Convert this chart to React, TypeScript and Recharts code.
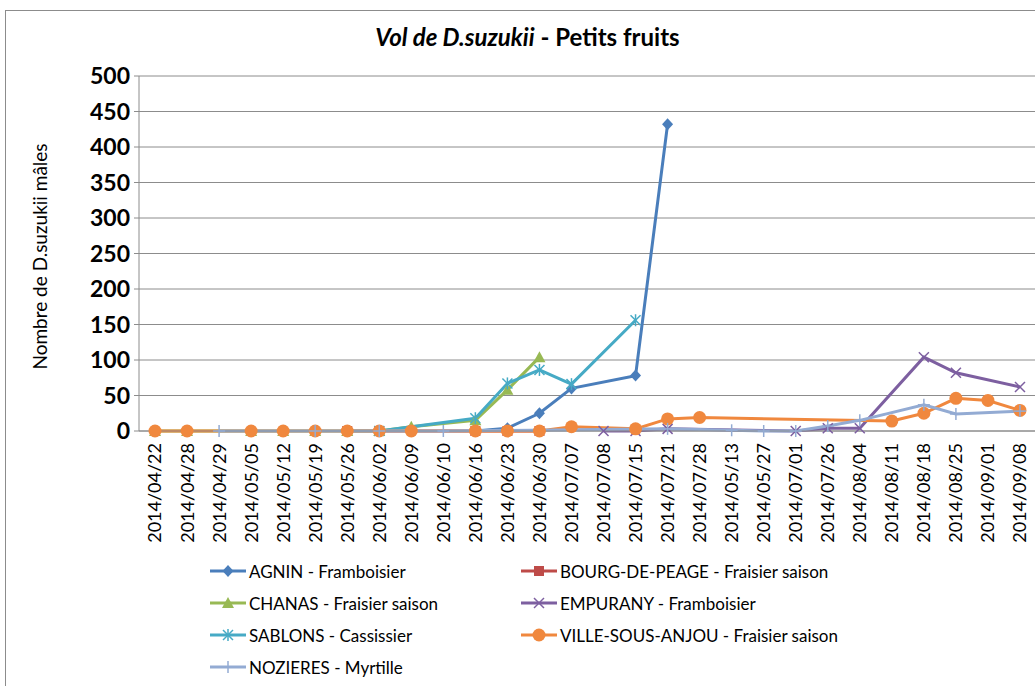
import React from 'react';
import { LineChart, Line, XAxis, YAxis, CartesianGrid } from 'recharts';

const categories = [
  '2014/04/22', '2014/04/28', '2014/04/29', '2014/05/05', '2014/05/12', '2014/05/19', '2014/05/26',
  '2014/06/02', '2014/06/09', '2014/06/10', '2014/06/16', '2014/06/23', '2014/06/30', '2014/07/07',
  '2014/07/08', '2014/07/15', '2014/07/21', '2014/07/28', '2014/05/13', '2014/05/27', '2014/07/01',
  '2014/07/26', '2014/08/04', '2014/08/11', '2014/08/18', '2014/08/25', '2014/09/01', '2014/09/08',
];

const N = null;
const agnin = [N, N, N, N, N, N, N, N, N, N, 0, 4, 25, 60, N, 78, 432, N, N, N, N, N, N, N, N, N, N, N];
const bourg = [N, N, N, N, N, N, 0, 0, N, N, 0, 0, 0, N, N, N, N, N, N, N, N, N, N, N, N, N, N, N];
const chanas = [0, 0, N, 0, 0, 0, 0, 0, 6, N, 15, 58, 104, N, N, N, N, N, N, N, N, N, N, N, N, N, N, N];
const empurany = [N, N, N, N, N, N, N, N, N, N, N, N, N, N, 0, 0, 3, N, N, N, 0, 4, 4, N, 104, 82, N, 62];
const sablons = [N, N, N, N, N, N, N, 0, N, N, 18, 67, 86, 66, N, 156, N, N, N, N, N, N, N, N, N, N, N, N];
const ville = [0, 0, N, 0, 0, 0, 0, 0, 0, N, 0, 0, 0, 6, N, 3, 17, 19, N, N, N, N, N, 14, 25, 46, 43, 29];
const nozieres = [N, N, 0, N, N, 0, N, 0, N, 0, N, N, N, N, N, N, 3, N, 1, 0, 0, 7, 15, N, 37, 24, N, 28];

const yTicks = [0, 50, 100, 150, 200, 250, 300, 350, 400, 450, 500];

const series = [
  { key: 'agnin', name: 'AGNIN - Framboisier', color: '#4A7EBB', shape: 'diamond', values: agnin },
  { key: 'bourg', name: 'BOURG-DE-PEAGE - Fraisier saison', color: '#BE4B48', shape: 'square', values: bourg },
  { key: 'chanas', name: 'CHANAS - Fraisier saison', color: '#98B954', shape: 'triangle', values: chanas },
  { key: 'empurany', name: 'EMPURANY - Framboisier', color: '#7D5FA0', shape: 'x', values: empurany },
  { key: 'sablons', name: 'SABLONS - Cassissier', color: '#46AAC5', shape: 'star', values: sablons },
  { key: 'ville', name: 'VILLE-SOUS-ANJOU - Fraisier saison', color: '#F0883E', shape: 'circle', values: ville },
  { key: 'nozieres', name: 'NOZIERES - Myrtille', color: '#93ABD3', shape: 'plus', values: nozieres },
];

const data = categories.map((c, i) => {
  const row: any = { date: c };
  series.forEach((s) => {
    row[s.key] = s.values[i];
  });
  return row;
});

const FONT = 'Lato, "Open Sans", sans-serif';

function Marker({ shape, cx, cy, color }: { shape: string; cx: number; cy: number; color: string }) {
  switch (shape) {
    case 'diamond':
      return <polygon points={`${cx},${cy - 6} ${cx + 5.5},${cy} ${cx},${cy + 6} ${cx - 5.5},${cy}`} fill={color} />;
    case 'square':
      return <rect x={cx - 5} y={cy - 5} width={10} height={10} fill={color} />;
    case 'triangle':
      return <polygon points={`${cx},${cy - 6} ${cx + 6},${cy + 5} ${cx - 6},${cy + 5}`} fill={color} />;
    case 'x':
      return (
        <g stroke={color} strokeWidth={1.5}>
          <line x1={cx - 5} y1={cy - 5} x2={cx + 5} y2={cy + 5} />
          <line x1={cx - 5} y1={cy + 5} x2={cx + 5} y2={cy - 5} />
        </g>
      );
    case 'star':
      return (
        <g stroke={color} strokeWidth={1.5}>
          <line x1={cx - 5} y1={cy - 5} x2={cx + 5} y2={cy + 5} />
          <line x1={cx - 5} y1={cy + 5} x2={cx + 5} y2={cy - 5} />
          <line x1={cx} y1={cy - 6} x2={cx} y2={cy + 6} />
        </g>
      );
    case 'circle':
      return <circle cx={cx} cy={cy} r={6.5} fill={color} />;
    case 'plus':
      return (
        <g stroke={color} strokeWidth={1.5}>
          <line x1={cx - 6} y1={cy} x2={cx + 6} y2={cy} />
          <line x1={cx} y1={cy - 6} x2={cx} y2={cy + 6} />
        </g>
      );
    default:
      return null;
  }
}

function XTick(props: any) {
  const { x, y, payload } = props;
  return (
    <text
      x={x}
      y={y}
      transform={`rotate(-90, ${x}, ${y})`}
      textAnchor="end"
      dy="0.36em"
      fontSize={18}
      fontFamily={FONT}
      fill="#000"
    >
      {payload.value}
    </text>
  );
}

function ChartLegend() {
  return (
    <div
      style={{
        position: 'absolute',
        left: 210,
        top: 560,
        display: 'grid',
        gridTemplateColumns: '311px 340px',
        rowGap: 10,
        fontFamily: FONT,
        fontSize: 17,
        color: '#000',
      }}
    >
      {series.map((s) => (
        <div key={s.key} style={{ display: 'flex', alignItems: 'center', height: 22 }}>
          <svg width={36} height={16} style={{ marginRight: 3 }}>
            <line x1={0} y1={8} x2={36} y2={8} stroke={s.color} strokeWidth={3} />
            <Marker shape={s.shape} cx={18} cy={8} color={s.color} />
          </svg>
          <span>{s.name}</span>
        </div>
      ))}
    </div>
  );
}

export default function App() {
  return (
    <div
      style={{
        position: 'absolute',
        left: 0,
        top: 0,
        width: 1035,
        height: 686,
        overflow: 'hidden',
        background: '#fff',
      }}
    >
      <div
        style={{
          position: 'absolute',
          left: 5,
          top: 10,
          width: 1040,
          height: 700,
          border: '1px solid #8c8c8c',
          boxSizing: 'border-box',
        }}
      />
      <div
        style={{
          position: 'absolute',
          left: 0,
          width: 1055,
          top: 22,
          textAlign: 'center',
          fontFamily: FONT,
          fontWeight: 700,
          fontSize: 24,
          color: '#000',
        }}
      >
        <i>Vol de D.suzukii</i> - Petits fruits
      </div>
      <div style={{ position: 'absolute', left: 0, top: 0 }}>
        <LineChart
          width={1040}
          height={686}
          data={data}
          margin={{ top: 76, right: 4, left: 0, bottom: 145 }}
        >
          <CartesianGrid vertical={false} stroke="#8c8c8c" strokeWidth={1} />
          <XAxis
            dataKey="date"
            scale="band"
            interval={0}
            height={110}
            tick={<XTick />}
            tickLine={false}
            axisLine={{ stroke: '#8c8c8c' }}
            tickSize={5}
            tickMargin={7}
          />
          <YAxis
            width={139}
            domain={[0, 500]}
            ticks={yTicks}
            interval={0}
            tick={{ fontSize: 23, fontWeight: 700, fill: '#000', fontFamily: FONT }}
            tickLine={{ stroke: '#8c8c8c' }}
            axisLine={{ stroke: '#8c8c8c' }}
            tickSize={5}
            tickMargin={4}
            label={{
              value: 'Nombre de D.suzukii mâles',
              angle: -90,
              position: 'insideLeft',
              offset: 40,
              dy: 3,
              style: { fontSize: 19, fontFamily: FONT, fill: '#000', textAnchor: 'middle' },
            }}
          />
          {series.map((s) => (
            <Line
              key={s.key}
              dataKey={s.key}
              name={s.name}
              stroke={s.color}
              strokeWidth={3}
              connectNulls
              isAnimationActive={false}
              dot={(p: any) =>
                p.cx == null || p.cy == null || p.value == null ? (
                  <g key={`${s.key}-${p.index}`} />
                ) : (
                  <g key={`${s.key}-${p.index}`}>
                    <Marker shape={s.shape} cx={p.cx} cy={p.cy} color={s.color} />
                  </g>
                )
              }
              activeDot={false}
            />
          ))}
        </LineChart>
      </div>
      <ChartLegend />
    </div>
  );
}
